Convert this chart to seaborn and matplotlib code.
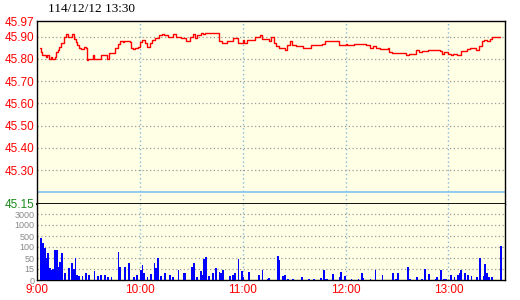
import numpy as np
import pandas as pd
import matplotlib
matplotlib.use("Agg")
import matplotlib.pyplot as plt
import seaborn as sns

# ---------------- data ----------------
title_text = "114/12/12 13:30"

price_min = [1.5, 2.5, 3, 5, 6, 7, 8, 9, 10.5, 11, 12, 13, 14, 15.5, 16, 17, 18, 19.5, 20.5, 21.5,
             22.5, 23.5, 24.5, 25.5, 27.5, 28.5, 29, 29.5, 32.5, 33.5, 35.5, 37.5, 41, 42, 45.5, 47,
             48.5, 50, 51, 53, 54, 55, 56, 57, 59, 60, 61, 63, 64, 66, 67, 69, 71, 73, 74, 76.5,
             79.5, 81, 84, 87, 89, 91, 92, 93.5, 95.5, 97, 98, 106, 108, 111, 114.5, 117, 120, 121,
             122.5, 127, 130, 131, 135.5, 136.5, 138, 139.5, 141, 144.5, 146, 147.5, 148.5, 151,
             155, 160, 162.5, 166, 168, 176, 180, 181, 185, 192, 194, 196, 197.5, 200, 204.5,
             205.5, 207, 215.5, 217, 221, 223, 224.5, 228, 235, 236.5, 237.5, 239.5, 241.5, 242.5,
             245, 247.5, 248.5, 251, 252.5, 256, 258, 259.5, 260.5, 262.5, 264, 265.5, 268.5, 270]
price_val = [45.85, 45.83, 45.815, 45.81, 45.815, 45.80, 45.81, 45.80, 45.81, 45.83, 45.84, 45.855,
             45.87, 45.88, 45.90, 45.91, 45.90, 45.90, 45.91, 45.89, 45.875, 45.86, 45.85, 45.845,
             45.855, 45.85, 45.795, 45.80, 45.815, 45.80, 45.80, 45.815, 45.80, 45.825, 45.85,
             45.865, 45.88, 45.875, 45.882, 45.88, 45.875, 45.85, 45.845, 45.85, 45.855, 45.875,
             45.885, 45.87, 45.855, 45.87, 45.885, 45.895, 45.905, 45.912, 45.905, 45.90, 45.91,
             45.897, 45.895, 45.882, 45.897, 45.91, 45.895, 45.905, 45.917, 45.91, 45.917, 45.882,
             45.87, 45.878, 45.895, 45.87, 45.885, 45.87, 45.886, 45.897, 45.906, 45.891, 45.88,
             45.90, 45.87, 45.856, 45.85, 45.84, 45.864, 45.88, 45.86, 45.856, 45.85, 45.86,
             45.864, 45.867, 45.882, 45.86, 45.867, 45.86, 45.867, 45.86, 45.85, 45.856, 45.85,
             45.845, 45.85, 45.83, 45.826, 45.815, 45.82, 45.84, 45.83, 45.835, 45.84, 45.833,
             45.82, 45.83, 45.82, 45.815, 45.82, 45.818, 45.835, 45.833, 45.845, 45.85, 45.84,
             45.856, 45.882, 45.886, 45.882, 45.89, 45.897, 45.90, 45.90]

vol_min = [2, 3, 4, 5, 6, 7, 8, 9, 10, 11, 12, 13, 14, 16, 18, 20, 21, 22, 23, 24, 26, 28, 30, 33,
           35, 37, 39, 41, 43, 47, 48, 51, 53, 56, 58, 60, 61, 62, 64, 66, 68, 69, 70, 72, 74, 77,
           79, 82, 85, 86, 90, 91, 93, 95, 96, 97, 98, 100, 102, 104, 106, 107, 108, 112, 114, 115,
           117, 119, 120, 123, 129, 131, 134, 135, 140, 141, 143, 144, 146, 149, 154, 158, 161,
           165, 167, 168, 169, 172, 176, 177, 179, 183, 187, 189, 190, 194, 197, 201, 207, 209,
           210, 216, 217, 221, 224, 226, 228, 232, 233, 235, 237, 238, 241, 243, 245, 246, 247,
           249, 251, 253, 256, 258, 260, 261, 262, 263, 265, 270]
vol_lots = [440, 232, 97, 49, 71, 17, 14, 15, 86, 86, 22, 38, 74, 10, 17, 35, 15, 49, 7, 5, 5, 9, 7,
            12, 5, 7, 7, 4, 4, 79, 22, 22, 33, 4, 7, 14, 28, 9, 4, 8, 35, 17, 49, 5, 10, 7, 4, 14,
            10, 10, 20, 35, 4, 12, 7, 47, 56, 5, 9, 19, 11, 10, 14, 5, 7, 10, 47, 12, 4, 11, 7, 14,
            2, 3, 60, 43, 5, 7, 2, 2, 4, 2, 1, 3, 14, 2, 2, 8, 4, 11, 5, 1, 2, 9, 3, 2, 13, 7, 9, 1,
            9, 21, 1, 4, 2, 15, 8, 1, 4, 14, 2, 2, 7, 4, 7, 9, 13, 9, 7, 5, 4, 49, 5, 30, 9, 4, 4,
            148]

vol_ticks = [0, 15, 50, 100, 500, 1000, 3000]
price_ticks = [45.97, 45.90, 45.80, 45.70, 45.60, 45.50, 45.40, 45.30, 45.15]
time_ticks = [0, 60, 120, 180, 240]
time_labels = ["9:00", "10:00", "11:00", "12:00", "13:00"]
ref_price = 45.20

# ---------------- styling ----------------
sns.set_theme(style="white")
plt.rcParams["font.family"] = ["Liberation Sans", "DejaVu Sans"]

bg = "#ffffe6"
red = "#ff0000"
grid_gray = "#9a9a9a"
vgrid = "#8cb8d8"

fig = plt.figure(figsize=(5.2, 3.0), dpi=100)
fig.patch.set_facecolor("white")

L = 37 / 520
W = (505 - 37) / 520
ax = fig.add_axes([L, 1 - 203.5 / 300, W, (203.5 - 21) / 300])
ax2 = fig.add_axes([L, 1 - 280 / 300, W, (280 - 203.5) / 300], sharex=ax)

for a in (ax, ax2):
    a.set_facecolor(bg)
    for s in a.spines.values():
        s.set_color("black")
        s.set_linewidth(1.0)
    for t in time_ticks[1:]:
        a.axvline(t, color=vgrid, lw=1.0, ls=(0, (1, 2)), zorder=1)

# price pane
df_p = pd.DataFrame({"t": price_min, "p": price_val})
for pt in price_ticks[1:-1]:
    ax.axhline(pt, color=grid_gray, lw=0.9, ls=(0, (1, 2)), zorder=1)
ax.axhline(ref_price, color="#80c4f0", lw=1.2, zorder=1)
sns.lineplot(data=df_p, x="t", y="p", ax=ax, color=red, lw=1.0,
             drawstyle="steps-post", sort=True, zorder=3)
ax.set_xlim(0, 273)
ax.set_ylim(45.15, 45.97)
ax.set_yticks(price_ticks)
ax.set_yticklabels([f"{v:.2f}" for v in price_ticks], fontsize=8.5)
for lab, v in zip(ax.get_yticklabels(), price_ticks):
    lab.set_color("#1a8a1a" if v == 45.15 else red)
ax.tick_params(axis="y", length=0, pad=2)
ax.tick_params(axis="x", length=0, labelbottom=False)
ax.set_xlabel("")
ax.set_ylabel("")
ax.spines["bottom"].set_linewidth(1.3)

# volume pane (non-linear level scale)
levels = np.interp(vol_lots, vol_ticks, np.arange(len(vol_ticks)))
df_v = pd.DataFrame({"t": vol_min, "lv": levels})
for i in range(1, len(vol_ticks)):
    ax2.axhline(i, color=grid_gray, lw=0.9, ls=(0, (1, 2)), zorder=1)
sns.histplot(data=df_v, x="t", weights="lv", binwidth=1, binrange=(0, 273), ax=ax2,
             color="#0000ff", alpha=1, edgecolor="none", linewidth=0, shrink=1.0, zorder=3)
ax2.set_ylim(0, 76.5 / 11)
ax2.set_yticks(range(len(vol_ticks)))
ax2.set_yticklabels([str(v) for v in vol_ticks], fontsize=6.5, color="#8a8a8a")
ax2.spines["top"].set_visible(False)
ax2.tick_params(axis="y", length=0, pad=2)
ax2.set_xticks(time_ticks)
ax2.set_xticklabels(time_labels, fontsize=8.5, color=red)
ax2.tick_params(axis="x", length=0, pad=3)
ax2.set_xlim(0, 273)
ax2.set_xlabel("")
ax2.set_ylabel("")

fig.text(48 / 520, 1 - 9 / 300, title_text, ha="left", va="center", fontsize=9.5,
         family=["Liberation Serif", "DejaVu Serif"], color="black")

fig.savefig("out.png", dpi=100, facecolor="white")
